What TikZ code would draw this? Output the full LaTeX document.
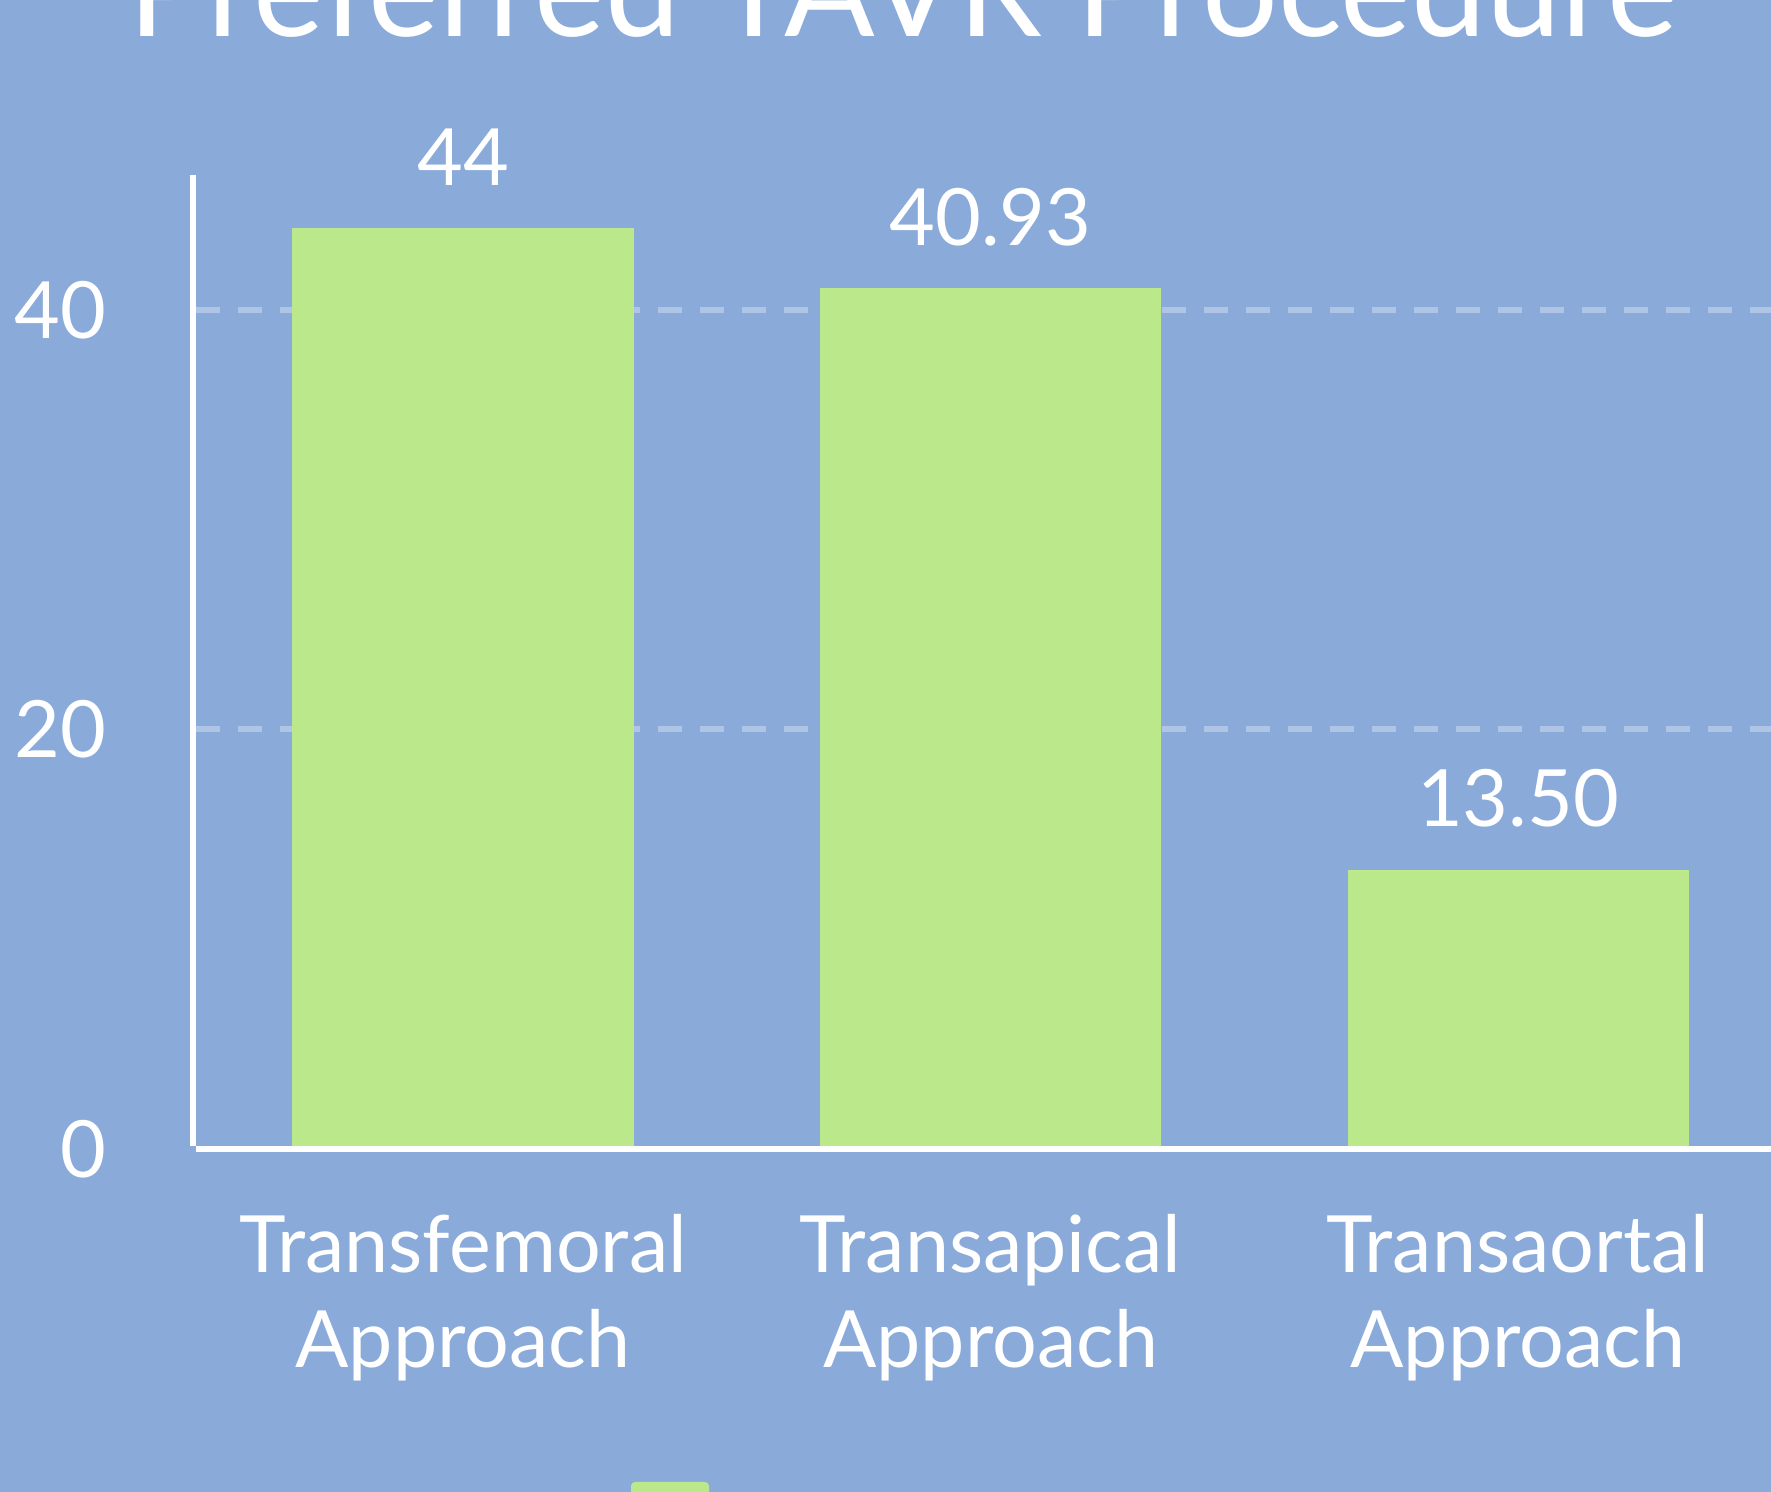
\documentclass[tikz,border=0pt]{standalone}
\usepackage{fontspec}
\setmainfont{Lato}
\definecolor{BackClr}{RGB}{138,171,218}
\definecolor{BarClr}{RGB}{186,232,138}
\definecolor{GridClr}{RGB}{174,197,230}

\begin{document}
\begin{tikzpicture}[x=0.5pt,y=0.5pt,
  lbl/.style={text=white,inner sep=0pt,font=\fontsize{39.5}{47.6}\selectfont},
  barbox/.style={fill=BarClr,draw=none},
  gridln/.style={GridClr,line width=3pt,dash pattern=on 12pt off 9pt},
  axisln/.style={white,line width=3pt}]
\fill[BackClr] (0,0) rectangle (1771,1492);
\clip (0,0) rectangle (1771,1492);

% title, cut by the top edge
\node[text=white,inner sep=0pt,anchor=base,font=\fontsize{67}{80}\selectfont]
  (title) at (903,1455) {Preferred TAVR Procedure};

% grid
\draw[gridln] (196,762.7) -- (1771,762.7);
\draw[gridln] (196,1182.3) -- (1771,1182.3);

% bars
\fill[barbox] (292,346) rectangle (634,1264);
\fill[barbox] (820,346) rectangle (1161,1204);
\fill[barbox] (1347.5,346) rectangle (1689,622);

% axes
\draw[axisln] (193,1317) -- (193,346);
\draw[axisln,line width=3.25pt] (196,343) -- (1771,343);

\node[lbl,anchor=east] (t0) at (107,343) {0};
\node[lbl,anchor=east] (t20) at (107,762.7) {20};
\node[lbl,anchor=east] (t40) at (107,1182.3) {40};

\node[lbl,anchor=base] (v1) at (463,1306) {44};
\node[lbl,anchor=base] (v2) at (990.5,1246) {40.93};
\node[lbl,anchor=base] (v3) at (1518,665) {13.50};

% base anchor sits on the last line
\node[lbl,anchor=base,align=center] (c1) at (463,124) {Transfemoral\\Approach};
\node[lbl,anchor=base,align=center] (c2) at (990.5,124) {Transapical\\Approach};
\node[lbl,anchor=base,align=center] (c3) at (1518,124) {Transaortal\\Approach};

% legend key
\fill[BarClr,rounded corners=2pt] (631,10) rectangle (709,-20);

\end{tikzpicture}
\end{document}
